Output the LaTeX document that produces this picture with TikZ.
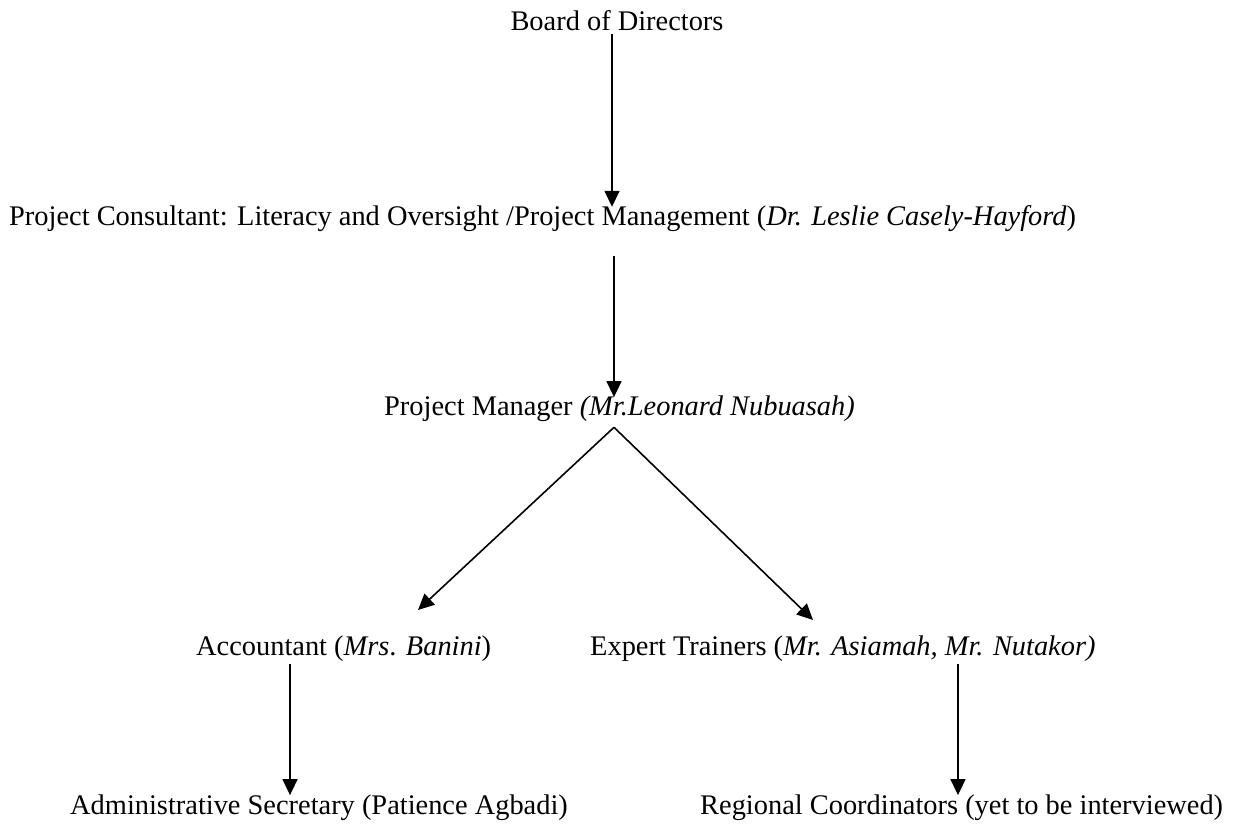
\documentclass[tikz,border=0pt]{standalone}
\usepackage{fontspec}
\setmainfont{Liberation Serif}
\usetikzlibrary{arrows.meta,calc}
\begin{document}
\begin{tikzpicture}[x=1pt,y=-1pt,
  lbl/.style={anchor=base west,inner sep=0pt,font=\fontsize{28.4}{34}\selectfont},
  arr/.style={line width=1.6pt,-{Triangle[width=15pt,length=16pt]}}]
\useasboundingbox (0,0) rectangle (1234,826);
\node[lbl,anchor=base] (bod) at (617,31) {Board of Directors};
\node[lbl] (pc) at (9,226) {Project Consultant: Literacy and Oversight /Project Management (\textit{Dr. Leslie Casely-Hayford})};
\node[lbl] (pm) at (384,415) {Project Manager \textit{(Mr.Leonard Nubuasah)}};
\node[lbl] (acc) at (196,655) {Accountant (\textit{Mrs}. \textit{Banini})};
\node[lbl] (exp) at (590,655) {Expert Trainers (\textit{Mr. Asiamah, Mr. Nutakor)}};
\node[lbl] (adm) at (70,814) {Administrative Secretary (Patience Agbadi)};
\node[lbl] (reg) at (700,814) {Regional Coordinators (yet to be interviewed)};
\coordinate (x1) at (612,0);
\coordinate (x2) at (614,0);
\coordinate (xl) at (290,0);
\coordinate (xr) at (958,0);
\coordinate (apex) at ($(pm.south -| x2)+(0,6)$);
\coordinate (tl) at (418,610);
\coordinate (tr) at (813,620);
\draw[arr] ([yshift=-3]bod.south -| x1) -- ([yshift=-1]pc.north -| x1);
\draw[arr] ([yshift=-24]pc.south -| x2) -- ([yshift=-2]pm.north -| x2);
\draw[arr] (apex) -- (tl);
\draw[arr] (apex) -- (tr);
\draw[arr] ([yshift=-3]acc.south -| xl) -- ([yshift=-1]adm.north -| xl);
\draw[arr] ([yshift=-3]exp.south -| xr) -- ([yshift=-1]reg.north -| xr);
\end{tikzpicture}
\end{document}
